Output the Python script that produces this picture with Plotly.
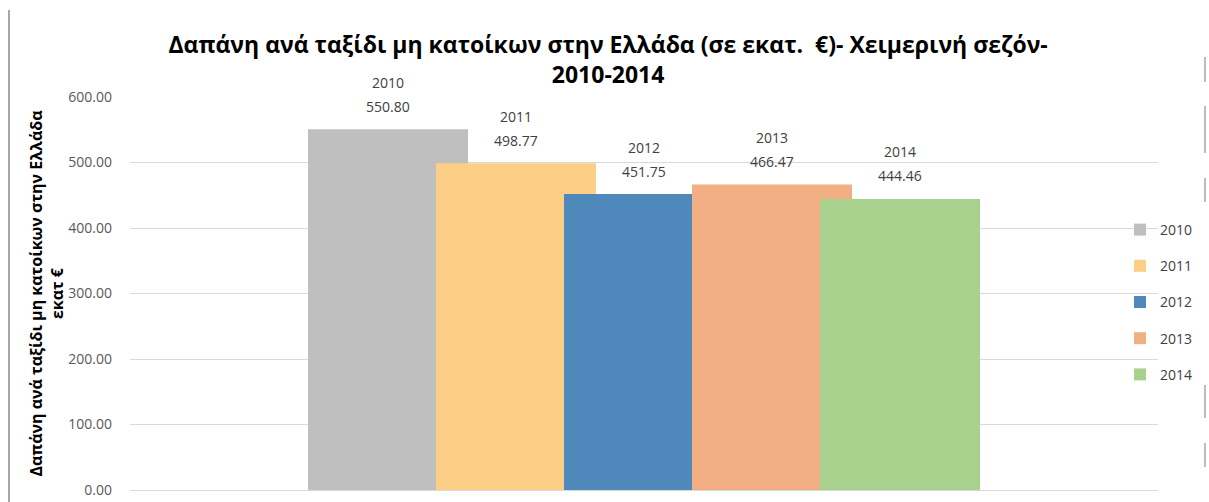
import plotly.graph_objects as go

years = ["2010", "2011", "2012", "2013", "2014"]
values = [550.80, 498.77, 451.75, 466.47, 444.46]
colors = ["#BFBFBF", "#FDCE86", "#4F88BB", "#F2AF84", "#A9D18E"]
y_ticks = [0, 100, 200, 300, 400, 500, 600]
category = ["Χειμερινή σεζόν"]

W, H = 1209, 502
ML, MR, MT, MB = 130, 51, 97, 12
PW, PH = W - ML - MR, H - MT - MB

def px_x(p):
    return (p - ML) / PW

def px_y(p):
    return (H - MB - p) / PH

bar_w = 160 / PW
step = 128 / PW

fig = go.Figure()
annotations = []
label_font = dict(family="Open Sans", size=14, color="#404040")
for i, (yr, v, c) in enumerate(zip(years, values, colors)):
    center = (i - 2) * step
    fig.add_trace(go.Bar(
        x=category, y=[v], name=yr,
        marker=dict(color=c, line=dict(width=0)),
        width=bar_w, offset=center - bar_w / 2,
        cliponaxis=False, legendgroup=yr,
    ))
    annotations.append(dict(
        x=center, y=v, xref="x", yref="y", text=f"{v:.2f}",
        showarrow=False, xanchor="center", yanchor="middle", yshift=23, font=label_font,
    ))
    annotations.append(dict(
        x=center, y=v, xref="x", yref="y", text=yr,
        showarrow=False, xanchor="center", yanchor="middle", yshift=47, font=label_font,
    ))

shapes = [
    dict(type="line", xref="paper", yref="paper", x0=px_x(9), x1=px_x(9),
         y0=px_y(10), y1=px_y(502), line=dict(color="#A6A6A6", width=2)),
]
for a, b in [(57, 82), (106, 153), (178, 202), (385, 418), (443, 467)]:
    shapes.append(dict(type="line", xref="paper", yref="paper", x0=px_x(1205), x1=px_x(1205),
                       y0=px_y(a), y1=px_y(b), line=dict(color="#A6A6A6", width=1.5)))

fig.update_layout(
    width=W, height=H,
    margin=dict(l=ML, r=MR, t=MT, b=MB, autoexpand=False),
    paper_bgcolor="white", plot_bgcolor="white",
    barmode="overlay",
    font=dict(family="Open Sans", color="#404040"),
    title=dict(
        text="<b>Δαπάνη ανά ταξίδι μη κατοίκων στην Ελλάδα (σε εκατ.\u00a0 €)- Χειμερινή σεζόν-<br>2010-2014</b>",
        x=0.503, xanchor="center", xref="container",
        y=1 - 53 / H, yanchor="middle", yref="container",
        font=dict(family="Open Sans", size=23, color="#000000"),
    ),
    xaxis=dict(type="category", range=[-0.5, 0.5], showticklabels=False, ticks="",
               showgrid=False, showline=True, linecolor="#D9D9D9", linewidth=1,
               zeroline=False, fixedrange=True, automargin=False),
    yaxis=dict(range=[0, 600], tickvals=y_ticks, tickformat=".2f", showgrid=False,
               zeroline=False, showline=False, ticklabelstandoff=17, automargin=False,
               tickfont=dict(family="Open Sans", size=14, color="#595959"),
               title=dict(text="<b>Δαπάνη ανά ταξίδι μη κατοίκων στην Ελλάδα<br>εκατ €</b>",
                          font=dict(family="Open Sans", size=16, color="#000000"), standoff=0)),
    yaxis2=dict(range=[0, 600], overlaying="y", tickvals=y_ticks[1:-1], showticklabels=False,
                showgrid=True, gridcolor="#D9D9D9", gridwidth=1, zeroline=False, automargin=False),
    legend=dict(x=px_x(1120), xanchor="left", y=px_y(214), yanchor="top",
                bgcolor="rgba(0,0,0,0)", traceorder="grouped", tracegroupgap=15,
                font=dict(family="Open Sans", size=14, color="#404040")),
    shapes=shapes,
    annotations=annotations,
    showlegend=True,
)
fig.add_trace(go.Scatter(x=category, y=[0], yaxis="y2", mode="markers",
                         marker=dict(opacity=0), showlegend=False, hoverinfo="skip"))

fig.write_html("out.html", config={"displayModeBar": False},
               post_script="document.body.style.margin='0';")
